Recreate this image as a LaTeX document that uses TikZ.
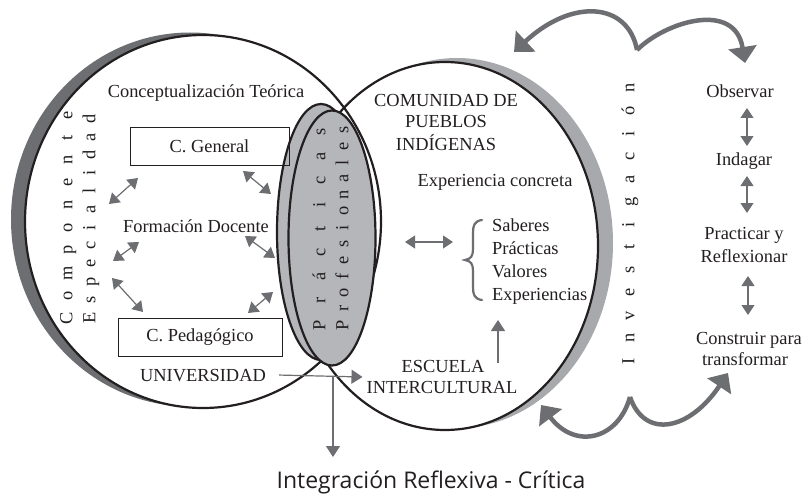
\documentclass[tikz,border=0pt]{standalone}
\usepackage{fontspec}
\setmainfont{Liberation Serif}
\newfontfamily\integfont{Open Sans}
\usetikzlibrary{arrows.meta}
\definecolor{ink}{HTML}{231F20}
\definecolor{arrowgray}{HTML}{6D6E71}
\definecolor{rimdark}{HTML}{6D6E71}
\definecolor{rimlight}{HTML}{A7A9AC}
\definecolor{lensgray}{HTML}{B5B6B9}
\newcommand{\lblsize}{\fontsize{18.4}{21.5}\selectfont}

\begin{document}
\begin{tikzpicture}[x=1pt,y=-1pt,
	lbl/.style={font=\lblsize,text=ink,inner sep=0pt,anchor=base},
	vlet/.style={font=\lblsize,text=ink,inner sep=0pt,rotate=90,text height=1.4ex,text depth=0.4ex},
	cbox/.style={draw=ink,line width=1pt,font=\lblsize,text=ink,minimum height=38pt,inner sep=0pt},
	dbl/.style={draw=arrowgray,line width=1.2pt,{Triangle[length=10pt,width=13pt]}-{Triangle[length=10pt,width=13pt]}},
	sgl/.style={draw=arrowgray,line width=1.2pt,-{Triangle[length=11pt,width=14pt]}},
	curl/.style={draw=arrowgray,line width=4.5pt,-{Triangle[length=16pt,width=28pt]}},
	rim/.style={draw=ink,line width=2.2pt}]
	\useasboundingbox (0,0) rectangle (804,495);
	% the two rims and the two fields
	\fill[rimdark](190,219.5)ellipse[x radius=179,y radius=187];
	\fill[rimlight](457,243)ellipse[x radius=156,y radius=185];
	\fill[white](203,221.5)ellipse[x radius=178,y radius=186.5];
	\fill[white](445,246)ellipse[x radius=153,y radius=184];
	\draw[rim](203,221.5)ellipse[x radius=178,y radius=186.5];
	\draw[rim](445,246)ellipse[x radius=153,y radius=184];
	% practicas
	\filldraw[rim,fill=lensgray](321,232)ellipse[x radius=44,y radius=128];
	\filldraw[rim,fill=lensgray](332,238)ellipse[x radius=43.5,y radius=127.5];
	\foreach \ch [count=\i from 0] in {P,r,á,c,t,i,c,a,s}
		\node[vlet](prac\i) at (323,325-24.1*\i) {\ch};
	\foreach \ch [count=\i from 0] in {P,r,o,f,e,s,i,o,n,a,l,e,s}
		\node[vlet](prof\i) at (346,325-16.25*\i) {\ch};
	% universidad side
	\node[lbl](teoria) at (206,98) {Conceptualización Teórica};
	\node[cbox,minimum width=159pt](cgen) at (209.5,146) {C. General};
	\node[lbl](docente) at (196,232) {Formación Docente};
	\node[cbox,minimum width=164pt](cped) at (200,337) {C. Pedagógico};
	\node[lbl](univ) at (203,381) {UNIVERSIDAD};
	\foreach \ch [count=\i from 0] in {C,o,m,p,o,n,e,n,t,e}
		\node[vlet](comp\i) at (70,318-22.55*\i) {\ch};
	\foreach \ch [count=\i from 0] in {E,s,p,e,c,i,a,l,i,d,a,d}
		\node[vlet](espe\i) at (93,318-18.1*\i) {\ch};
	\foreach \n/\a/\b/\c/\d in {da/109/204/138/178,db/243/171/271/194,dc/113/261/139/242,
		dd/245/236/275/258,de/112/278/143/312,df/248/313/273/292}{
		\coordinate(\n1) at (\a,\b);
		\coordinate(\n2) at (\c,\d);
		\draw[dbl](\n1)--(\n2);
	}
	% comunidad side
	\node[lbl](comu1) at (446,106.5) {COMUNIDAD DE};
	\node[lbl](comu2) at (446,128) {PUEBLOS};
	\node[lbl](comu3) at (446,150) {INDÍGENAS};
	\node[lbl](expc) at (495,186) {Experiencia concreta};
	% brace
	\draw[arrowgray,line width=2.2pt,line cap=round](482,220)..controls(474,221)and(473,226)..(473,233)--(473,249)
		..controls(473,256)and(471,259)..(465,260)..controls(471,261)and(473,264)..(473,271)--(473,287)
		..controls(473,294)and(474,299)..(482,300);
	\foreach \w [count=\i from 0] in {Saberes,Prácticas,Valores,Experiencias}
		\node[lbl,anchor=base west](sab\i) at (492,231+23*\i) {\w};
	\coordinate(lensr) at (405,242);
	\coordinate(bracel) at (453,242);
	\draw[dbl](lensr)--(bracel);
	\node[lbl](esc1) at (443,372) {ESCUELA};
	\node[lbl](esc2) at (442,393) {INTERCULTURAL};
	\coordinate(escup) at (498,363);
	\coordinate(sabdown) at (498,320);
	\draw[sgl](escup)--(sabdown);
	% integracion
	\node[font=\integfont\fontsize{23}{27}\selectfont,text=ink,inner sep=0pt,anchor=base](integ) at (431,488) {Integración Reflexiva - Crítica};
	\coordinate(split) at (333,377);
	\coordinate(integup) at (333,457);
	\draw[sgl]([xshift=13pt]univ.east)--([xshift=-4pt]esc2.west|-split);
	\draw[sgl](split)--(integup);
	% investigacion
	\foreach \ch [count=\i from 0] in {I,n,v,e,s,t,i,g,a,c,i,ó,n}
		\node[vlet](inv\i) at (632,361-22.75*\i) {\ch};
	\node[lbl](obs) at (740,98) {Observar};
	\node[lbl](inda) at (744,165) {Indagar};
	\node[lbl](prac) at (744,239) {Practicar y};
	\node[lbl](refl) at (744,262) {Reflexionar};
	\node[lbl](cons) at (749,344) {Construir para};
	\node[lbl](trans) at (745,365) {transformar};
	\foreach \n/\a/\b/\c in {va/747/108/146,vb/747/176/213,vc/748/276/315}{
		\coordinate(\n1) at (\a,\b);
		\coordinate(\n2) at (\a,\c);
		\draw[dbl](\n1)--(\n2);
	}
	\coordinate(topcusp) at (637,50);
	\coordinate(topl) at (514,52);
	\coordinate(topr) at (745,63);
	\coordinate(botcusp) at (630,397);
	\coordinate(botl) at (541,405);
	\coordinate(botr) at (728,373);
	\draw[curl](topcusp)..controls(628,2)and(572,-2)..(topl);
	\draw[curl](topcusp)..controls(665,22)and(735,0)..(topr);
	\draw[curl](botcusp)..controls(618,440)and(575,450)..(botl);
	\draw[curl](botcusp)..controls(645,440)and(690,430)..(botr);
\end{tikzpicture}
\end{document}
